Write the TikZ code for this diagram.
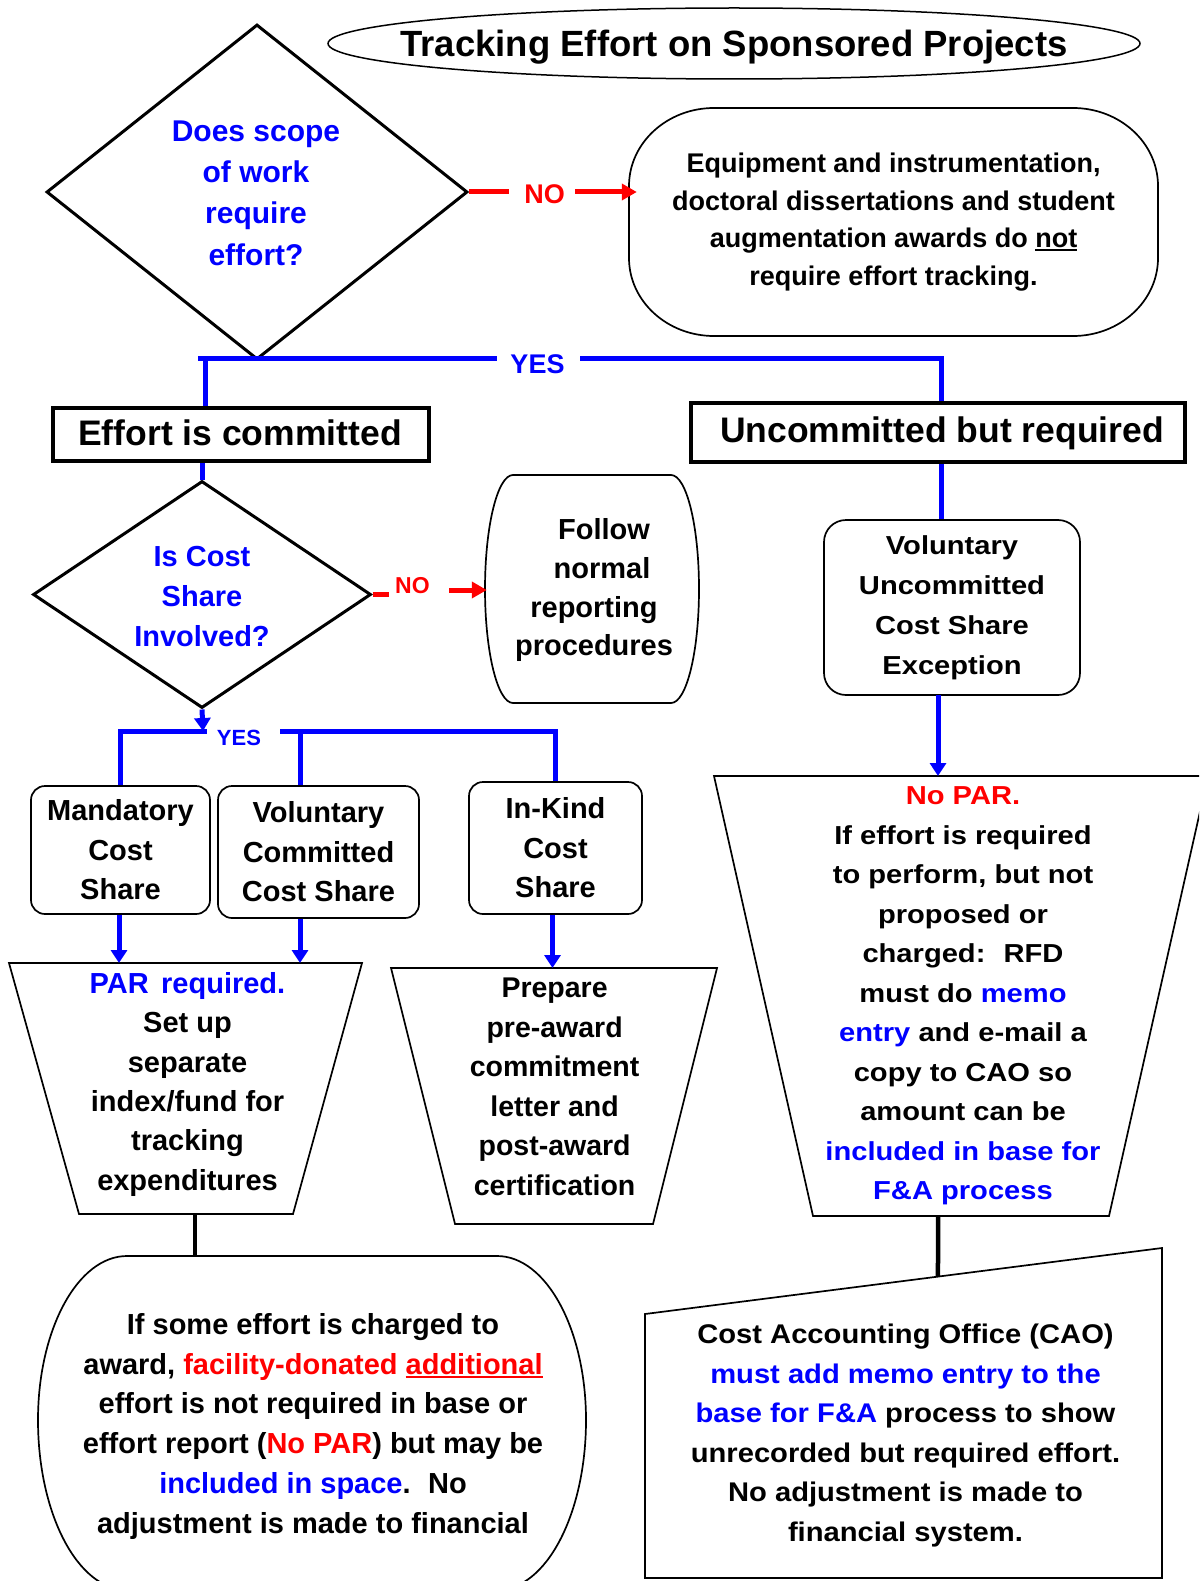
\documentclass[tikz,border=0pt]{standalone}
\usepackage{fontspec}
\setmainfont{Liberation Sans}
\newfontfamily\widefont{Liberation Sans}[FakeStretch=1.12]
\newfontfamily\cafont{Liberation Sans}[FakeStretch=1.08]
\usetikzlibrary{shapes.geometric,arrows.meta,calc}
\newcommand{\myul}[1]{\leavevmode\setbox0=\hbox{#1}\rlap{\rule[-0.13em]{\wd0}{0.075em}}\box0}
% #1 options, #2 x1, #3 y1, #4 x2, #5 y2, #6 rx, #7 ry top, #8 ry bottom
\newcommand{\ebox}[8][]{%
\draw[#1] ({#2+#6},{#3}) -- ({#4-#6},{#3})
 .. controls ({#4-0.4477*#6},{#3}) and ({#4},{#3+0.4477*#7}) .. ({#4},{#3+#7})
 -- ({#4},{#5-#8})
 .. controls ({#4},{#5-0.4477*#8}) and ({#4-0.4477*#6},{#5}) .. ({#4-#6},{#5})
 -- ({#2+#6},{#5})
 .. controls ({#2+0.4477*#6},{#5}) and ({#2},{#5-0.4477*#8}) .. ({#2},{#5-#8})
 -- ({#2},{#3+#7})
 .. controls ({#2},{#3+0.4477*#7}) and ({#2+0.4477*#6},{#3}) .. ({#2+#6},{#3}) -- cycle;}
\begin{document}
\begin{tikzpicture}[x=1pt,y=-1pt,
  thinln/.style={line width=1.7pt},
  bconn/.style={draw=blue,line width=5pt},
  rconn/.style={draw=red,line width=5pt},
  kconn/.style={draw=black,line width=4.5pt},
  tipb/.style={-{Triangle[length=13pt,width=16pt]}},
  tipr/.style={-{Triangle[length=15pt,width=16pt]}},
  tx/.style={align=center,inner sep=0pt},
  f29/.style={font=\bfseries\fontsize{29}{39.4}\selectfont}]
\fill[white] (0,0) rectangle (1199,1581);
\path[use as bounding box] (0,0) rectangle (1199,1581);
\clip (0,0) rectangle (1199,1581);

% title
\node[draw,ellipse,line width=1.5pt,minimum width=812pt,minimum height=71pt,inner sep=0pt] (title) at (734,43.5) {};
\node[anchor=base,inner sep=0pt,font=\bfseries\fontsize{36.5}{44}\selectfont] (titletxt) at (734,56.5) {Tracking Effort on Sponsored Projects};

% diamond 1
\node[draw,diamond,line width=3pt,minimum width=421pt,minimum height=335pt,inner sep=0pt] (d1) at (257,192) {};
\node[tx,text=blue,font=\bfseries\fontsize{30}{41.3}\selectfont] (d1t) at (256,193) {Does scope\\of work\\require\\effort?};

% equipment box
\node[tx,minimum width=529pt,minimum height=228pt,font=\bfseries\fontsize{27}{37.7}\selectfont] (eq) at (893.5,222) {Equipment and instrumentation,\\doctoral dissertations and student\\augmentation awards do \myul{not}\\require effort tracking.};
\ebox[thinln]{629}{108}{1158}{336}{85}{78}{78}

% NO 1
\coordinate (no1a) at (509,192);
\coordinate (no1b) at (575,192);
\node[anchor=base,inner sep=0pt,text=red,font=\bfseries\fontsize{27}{32}\selectfont] (no1) at (544.5,203.3) {NO};
\draw[rconn] (d1.east) -- (no1a);
\draw[rconn,tipr] (no1b) -- ($(eq.west |- no1b)+(8,0)$);

% header boxes
\node[draw,line width=4pt,minimum width=376pt,minimum height=53pt,inner sep=0pt] (ec) at (241,434.5) {};
\node[anchor=base,inner sep=0pt,font=\bfseries\fontsize{35.5}{42}\selectfont] (ect) at (240,445.4) {Effort is committed};
\node[draw,line width=4pt,minimum width=494pt,minimum height=59pt,inner sep=0pt] (ucr) at (938,432.5) {};
\node[anchor=base,inner sep=0pt,font=\bfseries\fontsize{35.5}{42}\selectfont] (ucrt) at (942,442.4) {Uncommitted but required};

% YES 1
\coordinate (yl) at (198,358);
\coordinate (y1a) at (497,358);
\coordinate (y1b) at (580,358);
\coordinate (ecin) at (205,358);
\node[anchor=base,inner sep=0pt,text=blue,font=\bfseries\fontsize{27}{32}\selectfont] (yes1) at (537.5,373.7) {YES};
\draw[bconn] (yl) -- (y1a);
\draw[bconn] (y1b) -| ($(ucr.north)+(3,0)$);
\draw[bconn] (ecin) -- (ecin |- ec.north);

% diamond 2
\node[draw,diamond,line width=3pt,minimum width=338pt,minimum height=227pt,inner sep=0pt] (d2) at (202,594.5) {};
\node[tx,text=blue,font=\bfseries\fontsize{29}{39.85}\selectfont] (d2t) at (202,596.4) {Is Cost\\Share\\Involved?};
\draw[bconn] (ec.south -| d2.north) -- (d2.north);

% follow normal
\node[minimum width=214pt,minimum height=228pt,inner sep=0pt] (fnr) at (592,589) {};
\ebox[thinln]{485}{475}{699}{703}{28}{114}{114}
\node[tx,font=\bfseries\fontsize{29}{38.7}\selectfont] (fnrt) at (594,590.3) {\hspace*{20pt}Follow\\\hspace*{16pt}normal\\reporting\\procedures};

% NO 2
\coordinate (no2a) at (389,594.5);
\coordinate (no2b) at (449,590);
\node[anchor=base,inner sep=0pt,text=red,font=\bfseries\fontsize{23}{28}\selectfont] (no2) at (412.4,593.3) {NO};
\draw[rconn] (d2.east) -- (no2a);
\draw[rconn,tipr] (no2b) -- ($(fnr.west |- no2b)+(2,0)$);

% cost share boxes
\node[draw,thinln,rounded corners=14pt,minimum width=179pt,minimum height=128pt,tx,f29] (mcs) at (120.5,850) {Mandatory\\Cost\\Share};
\node[draw,thinln,rounded corners=14pt,minimum width=201pt,minimum height=132pt,tx,f29] (vcc) at (318.5,852) {Voluntary\\Committed\\Cost Share};
\node[draw,thinln,rounded corners=14pt,minimum width=173pt,minimum height=132pt,tx,f29] (ik) at (555.5,848) {In-Kind\\Cost\\Share};

% YES 2
\coordinate (y2j) at (203,731);
\coordinate (y2a) at (207,731);
\coordinate (y2b) at (280,731);
\coordinate (vccin) at (300,731);
\node[anchor=base,inner sep=0pt,text=blue,font=\bfseries\fontsize{22}{26}\selectfont] (yes2) at (239,745) {YES};
\draw[bconn,tipb] (d2.south) -- (y2j);
\draw[bconn] (mcs.north) |- (y2a);
\draw[bconn] (y2b) -| (ik.north);
\draw[bconn] (vccin) -- (vccin |- vcc.north);

% trapezoid 1
\coordinate (tp1tl) at (9,963);
\coordinate (tp1tr) at (362,963);
\coordinate (tp1br) at (293,1214);
\coordinate (tp1bl) at (79,1214);
\draw[thinln] (tp1tl) -- (tp1tr) -- (tp1br) -- (tp1bl) -- cycle;
\node[tx,font=\bfseries\fontsize{29}{39.3}\selectfont] (tp1t) at (187.5,1084.4) {\textcolor{blue}{PAR\hspace{0.15em} required.}\\Set up\\separate\\index/fund for\\tracking\\expenditures};

% trapezoid 2
\coordinate (tp2tl) at (391,968);
\coordinate (tp2tr) at (717,968);
\coordinate (tp2br) at (653,1224);
\coordinate (tp2bl) at (455,1224);
\draw[thinln] (tp2tl) -- (tp2tr) -- (tp2br) -- (tp2bl) -- cycle;
\node[tx,font=\bfseries\fontsize{28.5}{39.5}\selectfont] (tp2t) at (554.6,1087) {Prepare\\pre-award\\commitment\\letter and\\post-award\\certification};

\draw[bconn,tipb] ($(mcs.south)+(-1.5,0)$) -- ($(mcs.south |- tp1tl)+(-1.5,0)$);
\draw[bconn,tipb] (vcc.south -| vccin) -- (vccin |- tp1tl);
\draw[bconn,tipb] ($(ik.south)+(-3,0)$) -- ($(ik.south |- tp2tl)+(-3,0)$);

% voluntary uncommitted
\node[draw,thinln,rounded corners=22pt,minimum width=256pt,minimum height=175pt,tx,font=\widefont\bfseries\fontsize{26}{40}\selectfont] (vuc) at (952,607.5) {Voluntary\\Uncommitted\\Cost Share\\Exception};
\draw[bconn] ($(ucr.south)+(3,0)$) -- ($(ucr.south |- vuc.north)+(3,0)$);

% trapezoid 3
\coordinate (tp3tl) at (714,776);
\coordinate (tp3tr) at (1208,776);
\coordinate (tp3br) at (1109,1216);
\coordinate (tp3bl) at (813,1216);
\draw[thinln] (tp3tl) -- (tp3tr) -- (tp3br) -- (tp3bl) -- cycle;
\node[tx,font=\widefont\bfseries\fontsize{26}{39.5}\selectfont] (tp3t) at (963,996) {\textcolor{red}{No PAR.}\\If effort is required\\to perform, but not\\proposed or\\charged:\hspace{0.7em}RFD\\must do \textcolor{blue}{memo}\\\textcolor{blue}{entry} and e-mail a\\copy to CAO so\\amount can be\\\textcolor{blue}{included in base for}\\\textcolor{blue}{F\&A process}};
\coordinate (vucout) at (938,695);
\draw[bconn,tipb] (vucout) -- (vucout |- tp3tl);

% bottom left rounded
\node[minimum width=548pt,minimum height=334pt,inner sep=0pt] (bl) at (312,1423) {};
\ebox[thinln]{38}{1256}{586}{1590}{89}{164}{170}
\node[tx,font=\bfseries\fontsize{29}{39.7}\selectfont] (blt) at (313,1426.3) {If some effort is charged to\\award, \textcolor{red}{facility-donated \myul{additional}}\\effort is not required in base or\\effort report (\textcolor{red}{No PAR}) but may be\\\textcolor{blue}{included in space}.\hspace{0.6em}No\\adjustment is made to financial};
\coordinate (tp1out) at (195,1214);
\draw[kconn] (tp1out) -- (tp1out |- bl.north);

% CAO
\coordinate (ctl) at (645,1314);
\coordinate (ctr) at (1162,1248);
\coordinate (cbr) at (1162,1578);
\coordinate (cbl) at (645,1578);
\draw[thinln] (cbl) -- (ctl) -- (ctr) -- (cbr) -- cycle;
\node[tx,font=\cafont\bfseries\fontsize{27}{39.5}\selectfont] (caot) at (905.5,1435.7) {Cost Accounting Office (CAO)\\\textcolor{blue}{must add memo entry to the}\\\textcolor{blue}{base for F\&A} process to show\\unrecorded but required effort.\\No adjustment is made to\\financial system.};
\coordinate (caoin) at ($(ctl)!0.5667!(ctr)$);
\coordinate (tp3out) at (938,1216);
\draw[kconn] (tp3out) -- (caoin);
\end{tikzpicture}
\end{document}
